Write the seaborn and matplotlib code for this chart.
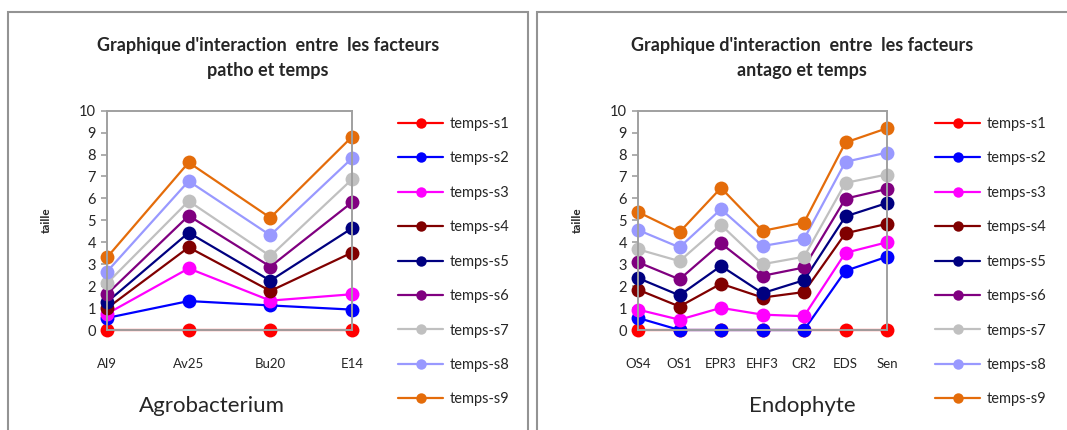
import matplotlib
matplotlib.use("Agg")
import matplotlib.pyplot as plt
import seaborn as sns
import pandas as pd
from matplotlib.patches import Rectangle

# ---- data -------------------------------------------------------------
series = ["temps-s1", "temps-s2", "temps-s3", "temps-s4", "temps-s5",
          "temps-s6", "temps-s7", "temps-s8", "temps-s9"]
colors = ["#FF0000", "#0000FF", "#FF00FF", "#800000", "#000080",
          "#800080", "#C0C0C0", "#9999FF", "#E46C0A"]

patho = ["Al9", "Av25", "Bu20", "E14"]
patho_vals = {
    "temps-s1": [0.0, 0.0, 0.0, 0.0],
    "temps-s2": [0.55, 1.32, 1.12, 0.93],
    "temps-s3": [0.74, 2.81, 1.34, 1.63],
    "temps-s4": [0.99, 3.77, 1.78, 3.53],
    "temps-s5": [1.27, 4.44, 2.25, 4.64],
    "temps-s6": [1.64, 5.21, 2.89, 5.82],
    "temps-s7": [2.13, 5.88, 3.37, 6.87],
    "temps-s8": [2.66, 6.79, 4.32, 7.83],
    "temps-s9": [3.31, 7.64, 5.12, 8.81],
}

antago = ["OS4", "OS1", "EPR3", "EHF3", "CR2", "EDS", "Sen"]
antago_vals = {
    "temps-s1": [0.0, 0.0, 0.0, 0.0, 0.0, 0.0, 0.0],
    "temps-s2": [0.55, 0.0, 0.0, 0.0, 0.0, 2.70, 3.34],
    "temps-s3": [0.93, 0.47, 1.01, 0.70, 0.63, 3.52, 4.00],
    "temps-s4": [1.84, 1.07, 2.11, 1.48, 1.73, 4.41, 4.84],
    "temps-s5": [2.37, 1.58, 2.92, 1.68, 2.27, 5.18, 5.79],
    "temps-s6": [3.09, 2.31, 3.95, 2.47, 2.85, 5.99, 6.43],
    "temps-s7": [3.68, 3.14, 4.79, 3.00, 3.34, 6.71, 7.09],
    "temps-s8": [4.56, 3.77, 5.51, 3.83, 4.15, 7.67, 8.09],
    "temps-s9": [5.38, 4.46, 6.48, 4.52, 4.90, 8.55, 9.20],
}

titles = ["Graphique d'interaction  entre  les facteurs\npatho et temps",
          "Graphique d'interaction  entre  les facteurs\nantago et temps"]
captions = ["Agrobacterium", "Endophyte"]

# ---- style ------------------------------------------------------------
sns.set_style("white")
plt.rcParams["font.family"] = ["Lato", "DejaVu Sans"]

W, H = 1067, 430
fig = plt.figure(figsize=(W / 100, H / 100), dpi=100)

def fx(px):
    return px / W

def fy(py):
    return 1 - py / H

# panel frames
frame_col = "#939393"
for x0, x1 in [(8, 528), (537, 1075)]:
    fig.patches.append(Rectangle((fx(x0), fy(440)), fx(x1 - x0), (440 - 12) / H,
                                 transform=fig.transFigure, fill=False,
                                 edgecolor=frame_col, linewidth=1.5))

panels = [
    dict(cats=patho, vals=patho_vals, ax=(107, 352), title_x=268,
         ylab_x=46, leg_x=398, cap_x=212),
    dict(cats=antago, vals=antago_vals, ax=(638, 887), title_x=802,
         ylab_x=577, leg_x=935, cap_x=802),
]

ax_top, ax_bot = 110.7, 330

for p, title, cap in zip(panels, titles, captions):
    x0, x1 = p["ax"]
    ax = fig.add_axes([fx(x0), fy(ax_bot), fx(x1 - x0), (ax_bot - ax_top) / H])

    rows = []
    for s in series:
        for c, v in zip(p["cats"], p["vals"][s]):
            rows.append({"cat": c, "taille": v, "serie": s})
    df = pd.DataFrame(rows)

    sns.lineplot(data=df, x="cat", y="taille", hue="serie", hue_order=series,
                 palette=colors, marker="o", markersize=10, markeredgewidth=0,
                 linewidth=1.6, sort=False, ax=ax)
    for ln in ax.lines:
        ln.set_clip_on(False)

    n = len(p["cats"])
    ax.set_xlim(0, n - 1)
    ax.set_ylim(0, 10)
    ax.set_yticks(range(0, 11))
    ax.set_xticks(range(n))
    ax.set_xticklabels(p["cats"])
    ax.set_xlabel("")
    ax.set_ylabel("")
    for sp in ax.spines.values():
        sp.set_color("#a0a0a0")
        sp.set_linewidth(1.4)
    ax.tick_params(axis="y", length=4, width=1.2, color="#a0a0a0",
                   labelsize=10.5, pad=4, left=True)
    ax.tick_params(axis="x", length=0, labelsize=9.5, pad=20)

    # legend on the right of the plot area
    handles, labels = ax.get_legend_handles_labels()
    for h in handles:
        h.set_markersize(7.5)
    ax.legend(handles, labels, loc="upper left",
              bbox_to_anchor=(fx(p["leg_x"]), fy(117)),
              bbox_transform=fig.transFigure, frameon=False, fontsize=10.5,
              handlelength=3.1, handletextpad=0.45, labelspacing=1.40,
              borderaxespad=0, borderpad=0)

    fig.text(fx(p["title_x"]), fy(58), title, ha="center", va="center",
             fontsize=13, fontweight="bold", linespacing=1.55)
    fig.text(fx(p["ylab_x"]), fy(220), "taille", rotation=90, ha="center",
             va="center", fontsize=8.5, fontweight="bold")
    fig.text(fx(p["cap_x"]), fy(406), cap, ha="center", va="center",
             fontsize=16)

fig.savefig("out.png", dpi=100)
